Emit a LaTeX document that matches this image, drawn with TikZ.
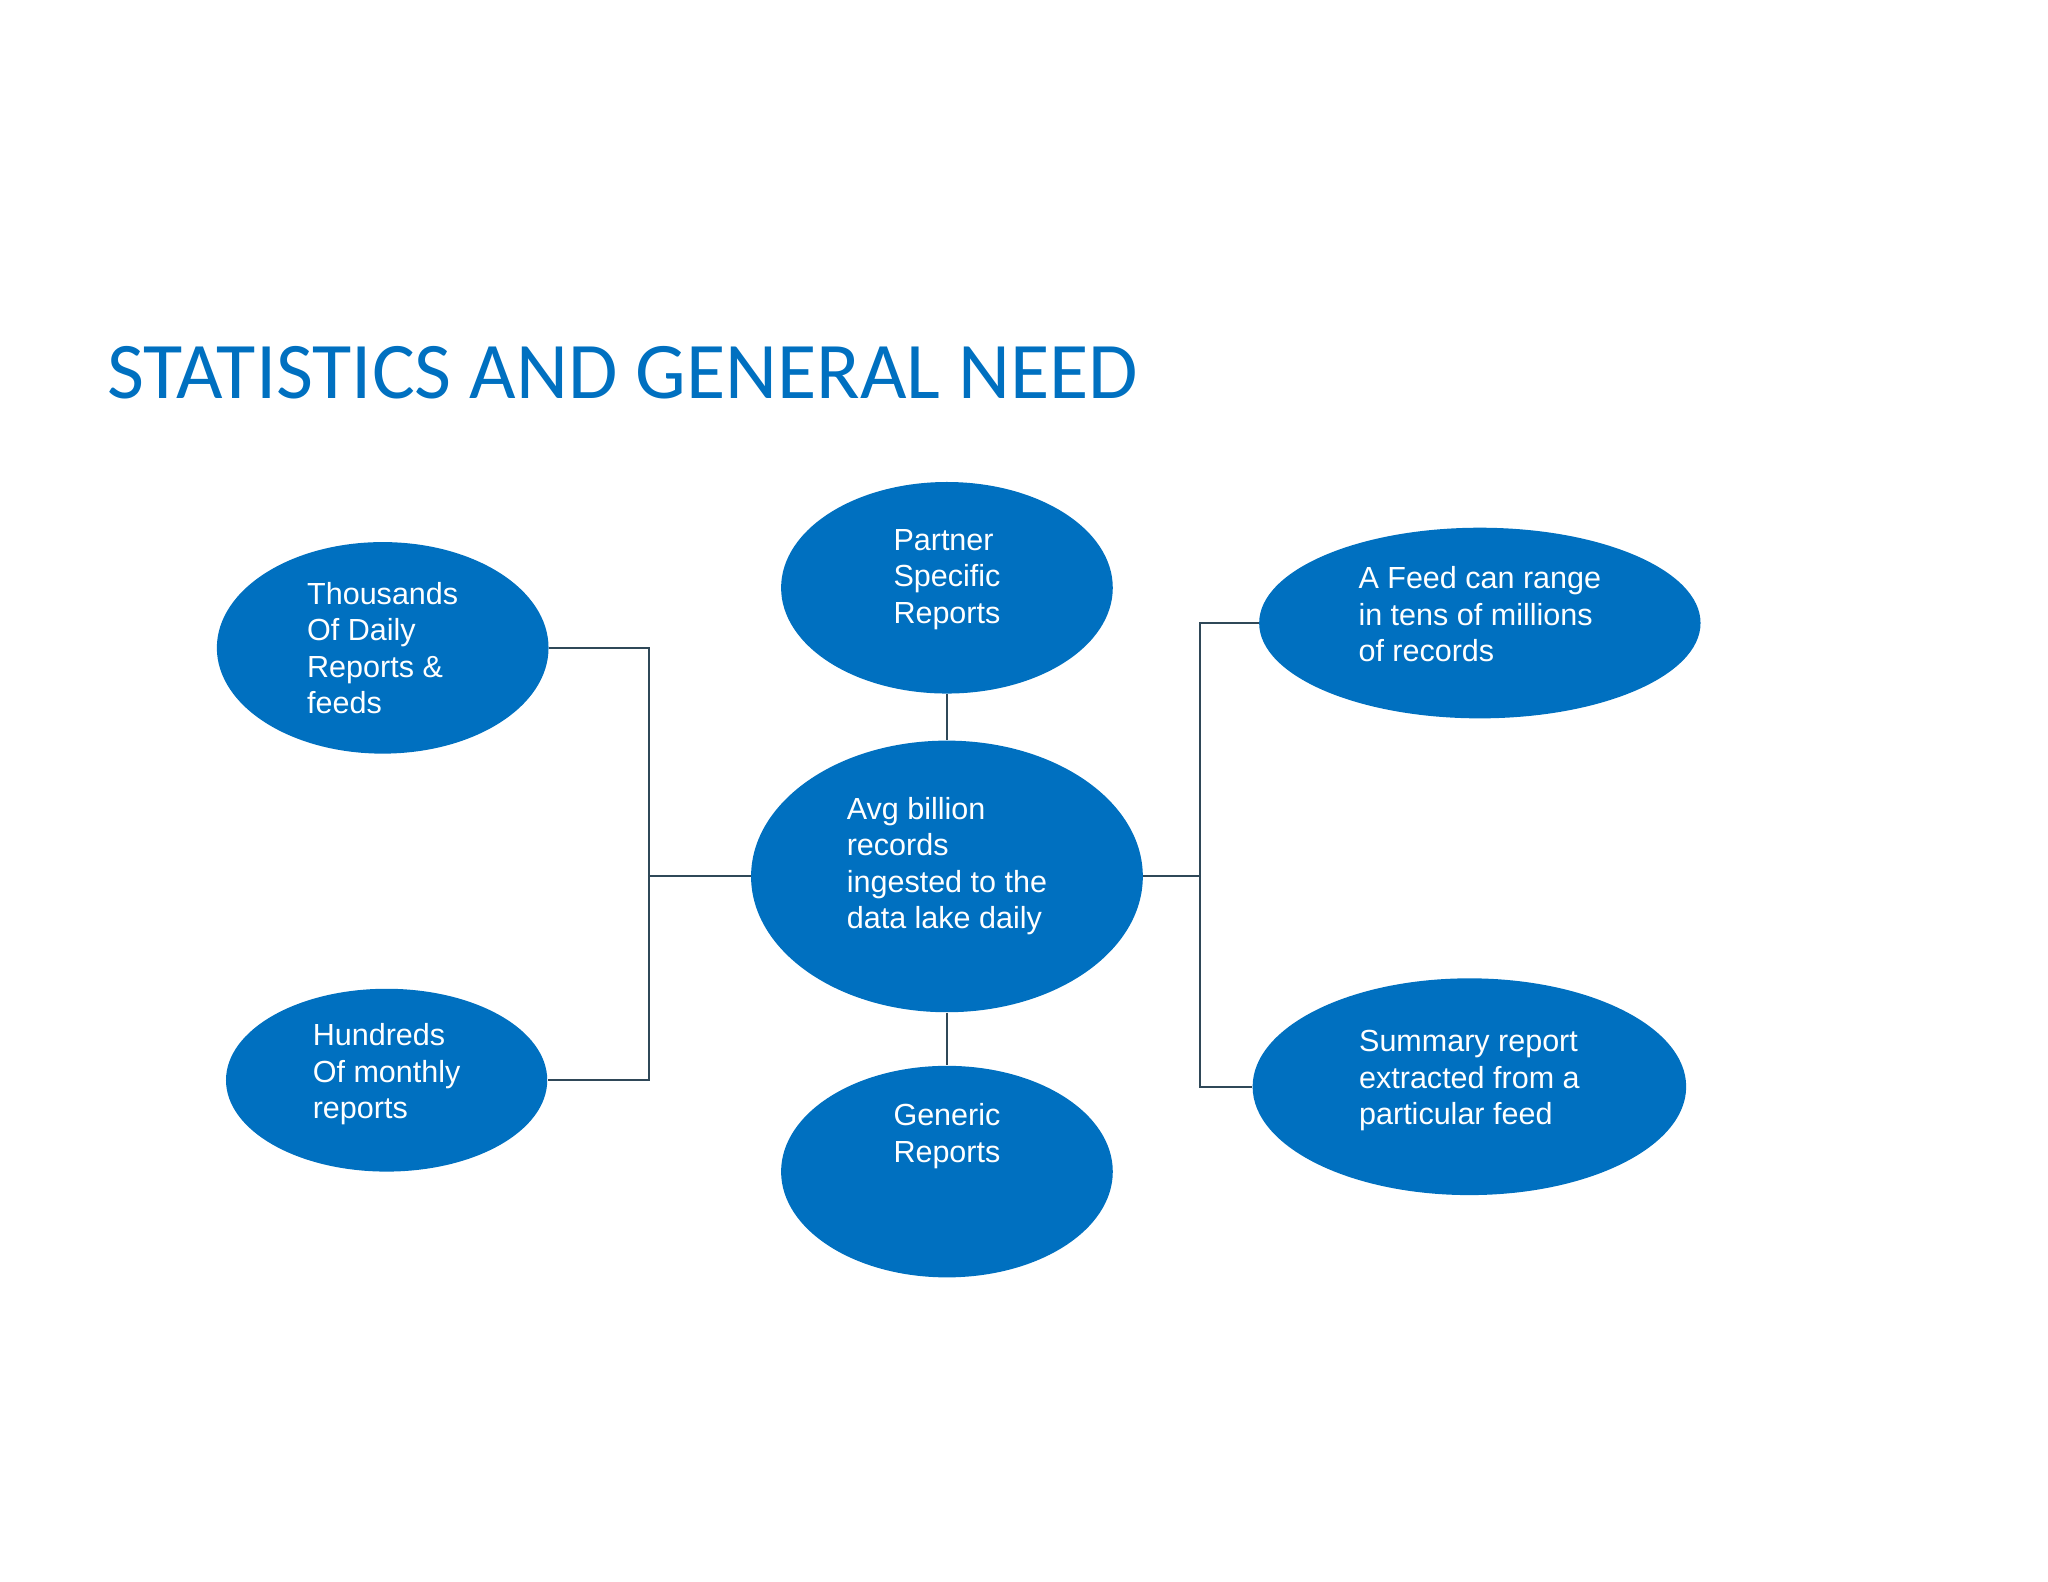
\documentclass[tikz,border=0pt]{standalone}
\usepackage{fontspec}
\setmainfont{Liberation Sans}
\newfontfamily\titlefont{Carlito}
\usetikzlibrary{shapes.geometric}
\definecolor{ebl}{RGB}{0,112,192}
\definecolor{lnc}{RGB}{47,72,88}
\begin{document}
\begin{tikzpicture}[x=0.02cm,y=-0.02cm,
  bub/.style={ellipse,fill=ebl,text=white,inner sep=0pt,align=left,
     font=\fontsize{13.3}{15.9}\selectfont},
  conn/.style={draw=lnc,line width=0.9pt}]
\useasboundingbox (0,0) rectangle (1568,1211);
\node[anchor=base west,text=ebl,font=\titlefont\fontsize{35}{40}\selectfont,inner sep=0pt] (title) at (82,305) {STATISTICS AND GENERAL NEED};
\node[bub,minimum width=5.08cm,minimum height=3.24cm] (th) at (293,496) {Thousands\\Of Daily\\Reports \&\\feeds};
\node[bub,minimum width=5.08cm,minimum height=3.24cm] (pa) at (725,450) {Partner\\Specific\\Reports\\[-6pt]};
\node[bub,minimum width=6.76cm,minimum height=2.92cm] (fe) at (1133,477) {A Feed can range\\in tens of millions\\of records\\[-8pt]};
\node[bub,minimum width=6.0cm,minimum height=4.16cm] (ce) at (725,671) {Avg billion\\records\\ingested to the\\data lake daily\\[-4pt]};
\node[bub,minimum width=4.92cm,minimum height=2.80cm] (hu) at (296,827) {Hundreds\\Of monthly\\reports\\[-8pt]};
\node[bub,minimum width=5.08cm,minimum height=3.24cm] (ge) at (725,897) {Generic\\Reports\\[18pt]};
\node[bub,minimum width=6.64cm,minimum height=3.32cm] (su) at (1125,832) {Summary report\\extracted from a\\particular feed\\[-8pt]};
\coordinate (lj) at (497,671);
\coordinate (rj) at (919,671);
\draw[conn] (th.east) -| (lj) |- (hu.east);
\draw[conn] (ce.west) -- (lj);
\draw[conn] (fe.west) -| (rj) |- (su.west);
\draw[conn] (ce.east) -- (rj);
\draw[conn] (pa.south) -- (ce.north);
\draw[conn] (ce.south) -- (ge.north);
\end{tikzpicture}
\end{document}
